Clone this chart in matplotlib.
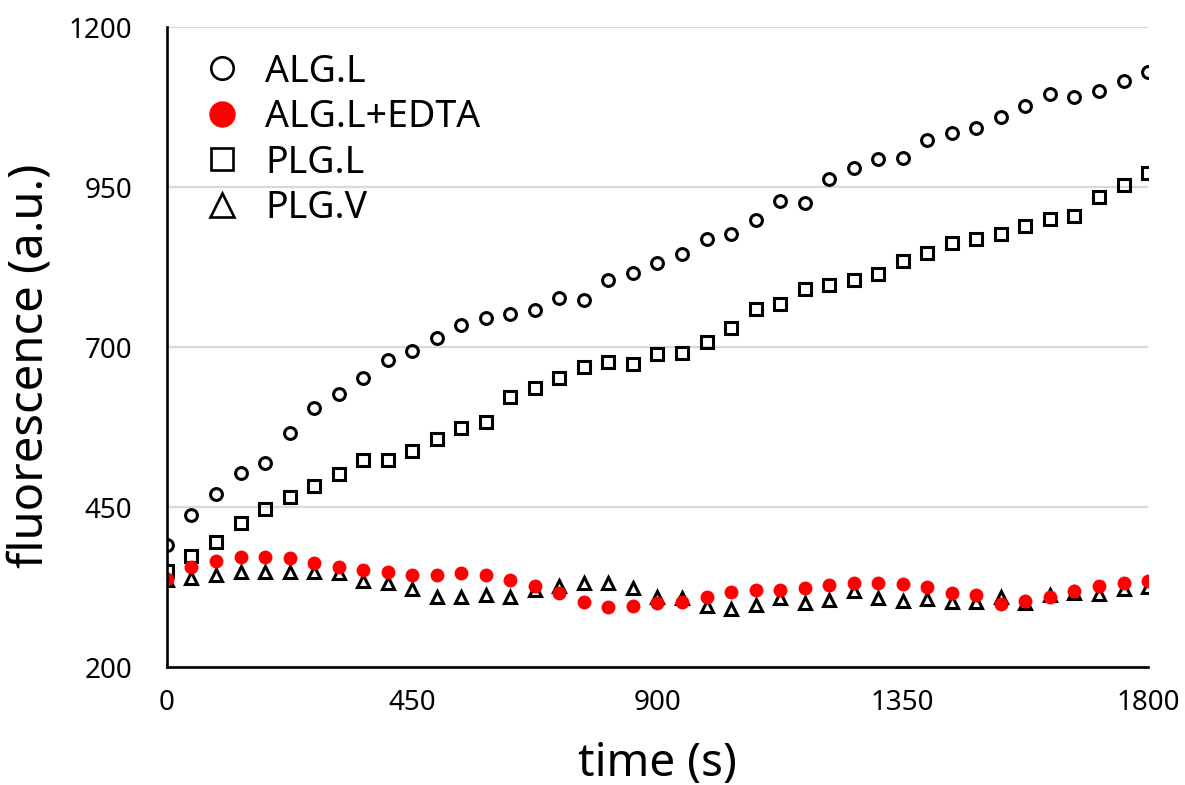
import matplotlib
matplotlib.use("Agg")
import matplotlib.pyplot as plt

plt.rcParams['font.family'] = ['Noto Sans', 'DejaVu Sans']

# time points (s)
time = [0, 45, 90, 135, 180, 225, 270, 315, 360, 405, 450, 495, 540, 585,
        630, 675, 720, 765, 810, 855, 900, 945, 990, 1035, 1080, 1125, 1170,
        1215, 1260, 1305, 1350, 1395, 1440, 1485, 1530, 1575, 1620, 1665,
        1710, 1755, 1800]

alg_l = [390, 438, 471, 503, 519, 565, 604, 626, 651, 679, 693, 714, 734, 745,
         752, 758, 776, 773, 804, 816, 832, 845, 869, 877, 898, 928, 925,
         963, 979, 993, 996, 1023, 1034, 1042, 1059, 1076, 1096, 1090,
         1100, 1116, 1130]

alg_l_edta = [338, 357, 365, 372, 372, 371, 363, 356, 352, 348, 344, 344, 347, 344,
              336, 326, 316, 301, 293, 295, 300, 301, 310, 317, 320, 320, 324,
              328, 331, 331, 330, 325, 315, 313, 299, 303, 309, 319,
              326, 331, 335]

plg_l = [350, 374, 395, 425, 447, 465, 483, 501, 523, 523, 537, 556, 573, 583,
         622, 636, 652, 668, 677, 674, 689, 690, 708, 729, 759, 767, 790,
         797, 805, 814, 834, 847, 862, 868, 877, 889, 900, 905,
         934, 953, 972]

plg_v = [336, 339, 343, 349, 348, 349, 349, 347, 334, 331, 322, 309, 309, 313,
         310, 321, 327, 332, 331, 323, 310, 308, 295, 290, 297, 308, 300,
         305, 318, 308, 303, 306, 301, 301, 310, 300, 313, 315,
         314, 322, 325]

xticks = [0, 450, 900, 1350, 1800]
yticks = [200, 450, 700, 950, 1200]

fig = plt.figure(figsize=(11.85, 7.85), dpi=100)
ax = fig.add_axes([0.1409, 0.1503, 0.8279, 0.8153])

ax.plot(time, alg_l, linestyle='none', marker='o', ms=8.5, mew=2.2,
        mfc='none', mec='black', label='ALG.L', zorder=3)
ax.plot(time, alg_l_edta, linestyle='none', marker='o', ms=10, mew=0,
        mfc='#ff0000', label='ALG.L+EDTA', zorder=5)
ax.plot(time, plg_l, linestyle='none', marker='s', ms=8, mew=2.2,
        mfc='none', mec='black', label='PLG.L', zorder=3)
ax.plot(time, plg_v, linestyle='none', marker='^', ms=9, mew=2.2,
        mfc='none', mec='black', label='PLG.V', zorder=4)

ax.set_xlim(0, 1800)
ax.set_ylim(200, 1200)
ax.set_xticks(xticks)
ax.set_yticks(yticks)
ax.tick_params(length=0, labelsize=20)
ax.tick_params(axis='x', pad=16)
ax.tick_params(axis='y', pad=25)

ax.grid(axis='y', color='#d9d9d9', linewidth=1.6)
ax.set_axisbelow(True)
for s in ['top', 'right']:
    ax.spines[s].set_visible(False)
for s in ['left', 'bottom']:
    ax.spines[s].set_linewidth(1.9)
    ax.spines[s].set_zorder(6)

ax.set_xlabel('time (s)', fontsize=33)
ax.xaxis.set_label_coords(0.5, -0.115)
ax.set_ylabel('fluorescence (a.u.)', fontsize=34)
ax.yaxis.set_label_coords(-0.116, 0.47)

# legend without frame, big markers
leg = ax.legend(loc='upper left', bbox_to_anchor=(0.037, 0.96), frameon=False,
                fontsize=27, markerscale=1.9, handlelength=1.0, handletextpad=0.65,
                labelspacing=0.2, borderpad=0, borderaxespad=0)
for h in leg.legend_handles:
    if h.get_markeredgewidth() > 0:
        h.set_markeredgewidth(1.9)

fig.savefig('out.png', dpi=100)
